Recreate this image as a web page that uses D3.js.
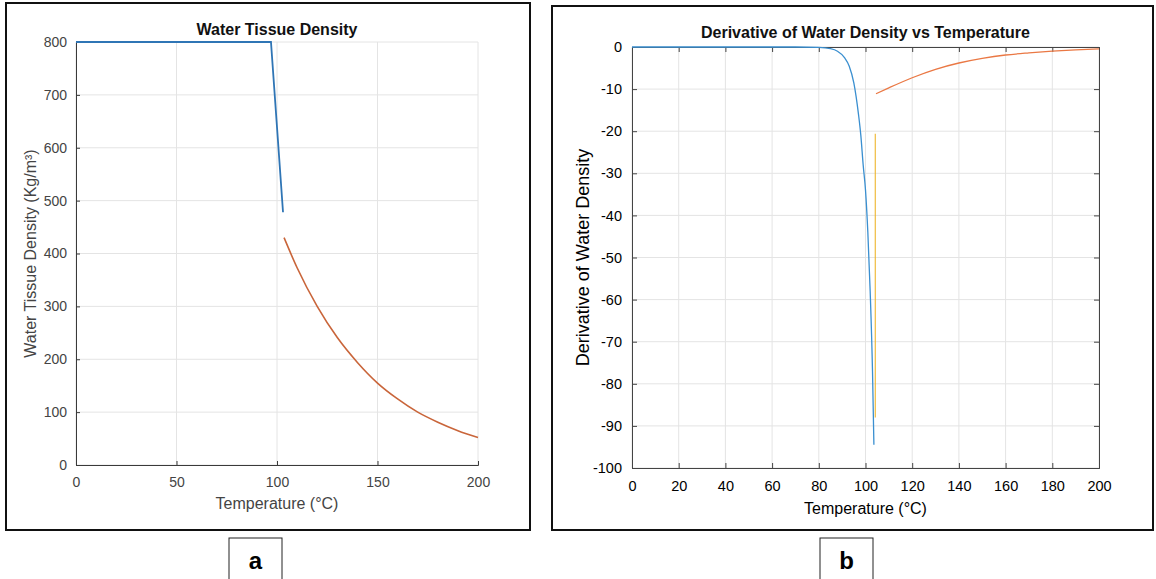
<!DOCTYPE html>
<html>
<head>
<meta charset="utf-8">
<script src="https://cdn.jsdelivr.net/npm/d3@7"></script>
<style>
  body { margin: 0; background: #fff; }
  svg { display: block; font-family: "Liberation Sans", Arial, Helvetica, sans-serif; }
</style>
</head>
<body>
<div id="chart"></div>
<script>
// ---- data ----
// panel a : water tissue density (kg/m3) vs temperature
const densTempLow = [0, 97, 103];
const densLow = [800, 800, 478];
const densTempHigh = [103.5, 110, 120, 130, 140, 150, 160, 170, 180, 190, 200];
const densHigh = [430, 373, 300, 241, 194, 155, 125, 100, 81, 65, 52];
const densXTicks = [0, 50, 100, 150, 200];
const densYTicks = [0, 100, 200, 300, 400, 500, 600, 700, 800];

// panel b : derivative of water density vs temperature
const derivTempLow = [0, 70, 80, 85, 88, 91, 93, 95, 97, 98, 99, 100, 101, 102, 103, 103.6];
const derivLow = [0, 0, -0.1, -0.4, -1.0, -2.5, -4.5, -8.5, -16, -21, -28, -34, -44, -58, -77, -94.5];
const derivTempHigh = [104.5, 110, 120, 130, 140, 150, 160, 170, 180, 190, 200];
const derivHigh = [-11.1, -9.7, -7.3, -5.3, -3.8, -2.7, -1.9, -1.4, -1.0, -0.7, -0.45];
const derivTempJump = [104.2, 104.2];
const derivJump = [-20.6, -88];
const derivXTicks = [0, 20, 40, 60, 80, 100, 120, 140, 160, 180, 200];
const derivYTicks = [0, -10, -20, -30, -40, -50, -60, -70, -80, -90, -100];

const svg = d3.select("#chart")
  .append("svg")
  .attr("width", 1156)
  .attr("height", 579);

function zip(xs, ys) { return xs.map((x, i) => [x, ys[i]]); }

function drawPanel(p) {
  // outer frame of the figure
  svg.append("rect")
    .attr("x", p.frame[0]).attr("y", p.frame[1])
    .attr("width", p.frame[2]).attr("height", p.frame[3])
    .attr("fill", "#fff").attr("stroke", "#111").attr("stroke-width", 2);

  const x = d3.scaleLinear().domain([0, 200]).range([p.left, p.right]);
  const y = d3.scaleLinear().domain(p.yDomain).range([p.bottom, p.top]);
  const g = svg.append("g");
  const fmt = d => String(d);   // plain hyphen minus, like the original

  // grid
  g.append("g").selectAll("line").data(p.xTicks).join("line")
    .attr("x1", d => x(d)).attr("x2", d => x(d))
    .attr("y1", p.top).attr("y2", p.bottom)
    .attr("stroke", "#e4e4e4");
  g.append("g").selectAll("line").data(p.yTicks).join("line")
    .attr("x1", p.left).attr("x2", p.right)
    .attr("y1", d => y(d)).attr("y2", d => y(d))
    .attr("stroke", "#e4e4e4");

  // axes, ticks point inward
  const xAxis = g.append("g")
    .attr("transform", `translate(0, ${p.bottom})`)
    .call(d3.axisBottom(x).tickValues(p.xTicks).tickFormat(fmt).tickSize(-p.tick).tickPadding(p.tick + 8));
  const yAxis = g.append("g")
    .attr("transform", `translate(${p.left}, 0)`)
    .call(d3.axisLeft(y).tickValues(p.yTicks).tickFormat(fmt).tickSize(-p.tick).tickPadding(p.tick + 5));
  [xAxis, yAxis].forEach(a => {
    a.select(".domain").attr("stroke", p.axisColor);
    a.selectAll(".tick line").attr("stroke", p.axisColor);
    a.selectAll(".tick text")
      .attr("fill", p.textColor)
      .style("font-size", p.tickFont + "px");
  });
  if (p.box) {
    g.append("g")
      .attr("transform", `translate(0, ${p.top})`)
      .call(d3.axisTop(x).tickValues(p.xTicks).tickSize(-p.tick).tickFormat(""))
      .call(a => a.select(".domain").attr("stroke", p.axisColor))
      .call(a => a.selectAll(".tick line").attr("stroke", p.axisColor));
    g.append("g")
      .attr("transform", `translate(${p.right}, 0)`)
      .call(d3.axisRight(y).tickValues(p.yTicks).tickSize(-p.tick).tickFormat(""))
      .call(a => a.select(".domain").attr("stroke", p.axisColor))
      .call(a => a.selectAll(".tick line").attr("stroke", p.axisColor));
  }

  // series
  p.series.forEach(s => {
    const line = d3.line().x(d => x(d[0])).y(d => y(d[1]))
      .curve(s.smooth ? d3.curveMonotoneX : d3.curveLinear);
    g.append("path")
      .datum(zip(s.t, s.v))
      .attr("fill", "none")
      .attr("stroke", s.color)
      .attr("stroke-width", s.width)
      .attr("opacity", s.opacity || 1)
      .attr("d", line);
  });

  // titles
  svg.append("text")
    .attr("x", (p.left + p.right) / 2).attr("y", p.titleY)
    .attr("text-anchor", "middle")
    .attr("font-weight", "bold").attr("font-size", 16).attr("fill", "#111")
    .text(p.title);
  svg.append("text")
    .attr("x", (p.left + p.right) / 2).attr("y", p.xLabelY)
    .attr("text-anchor", "middle")
    .attr("font-size", 16).attr("fill", p.textColor)
    .text("Temperature (°C)");
  svg.append("text")
    .attr("transform", `translate(${p.yLabelX}, ${(p.top + p.bottom) / 2}) rotate(-90)`)
    .attr("text-anchor", "middle")
    .attr("font-size", p.yLabelFont).attr("fill", p.textColor)
    .text(p.yLabel);

  // panel letter
  svg.append("rect")
    .attr("x", p.letterBox[0]).attr("y", p.letterBox[1])
    .attr("width", 53).attr("height", 44)
    .attr("fill", "#fff").attr("stroke", "#222").attr("stroke-width", 1);
  svg.append("text")
    .attr("x", p.letterBox[0] + 26.5).attr("y", p.letterBox[1] + 31)
    .attr("text-anchor", "middle")
    .attr("font-weight", "bold").attr("font-size", 24).attr("fill", "#000")
    .text(p.letter);
}

drawPanel({
  frame: [6, 3, 524, 527],
  left: 76, right: 478, top: 42, bottom: 465,
  yDomain: [0, 800],
  xTicks: densXTicks, yTicks: densYTicks,
  tick: 4, box: false, tickFont: 14,
  axisColor: "#3a3a3a", textColor: "#444",
  title: "Water Tissue Density", titleY: 35,
  xLabelY: 509, yLabelX: 36, yLabelFont: 16,
  yLabel: "Water Tissue Density (Kg/m³)",
  series: [
    {t: densTempLow, v: densLow, color: "#2f75b5", width: 1.8},
    {t: densTempHigh, v: densHigh, color: "#c9653a", width: 1.6, smooth: true}
  ],
  letterBox: [229, 538], letter: "a"
});

drawPanel({
  frame: [552, 6, 601, 524],
  left: 632, right: 1099, top: 47, bottom: 468,
  yDomain: [-100, 0],
  xTicks: derivXTicks, yTicks: derivYTicks,
  tick: 5, box: true, tickFont: 14.5,
  axisColor: "#444", textColor: "#000",
  title: "Derivative of Water Density vs Temperature", titleY: 38,
  xLabelY: 514, yLabelX: 589, yLabelFont: 18,
  yLabel: "Derivative of Water Density",
  series: [
    {t: derivTempLow, v: derivLow, color: "#3a8fd0", width: 1.3, smooth: true},
    {t: derivTempHigh, v: derivHigh, color: "#ea7844", width: 1.3, smooth: true},
    {t: derivTempJump, v: derivJump, color: "#edb120", width: 1.3, opacity: 0.8}
  ],
  letterBox: [820, 538], letter: "b"
});
</script>
</body>
</html>
